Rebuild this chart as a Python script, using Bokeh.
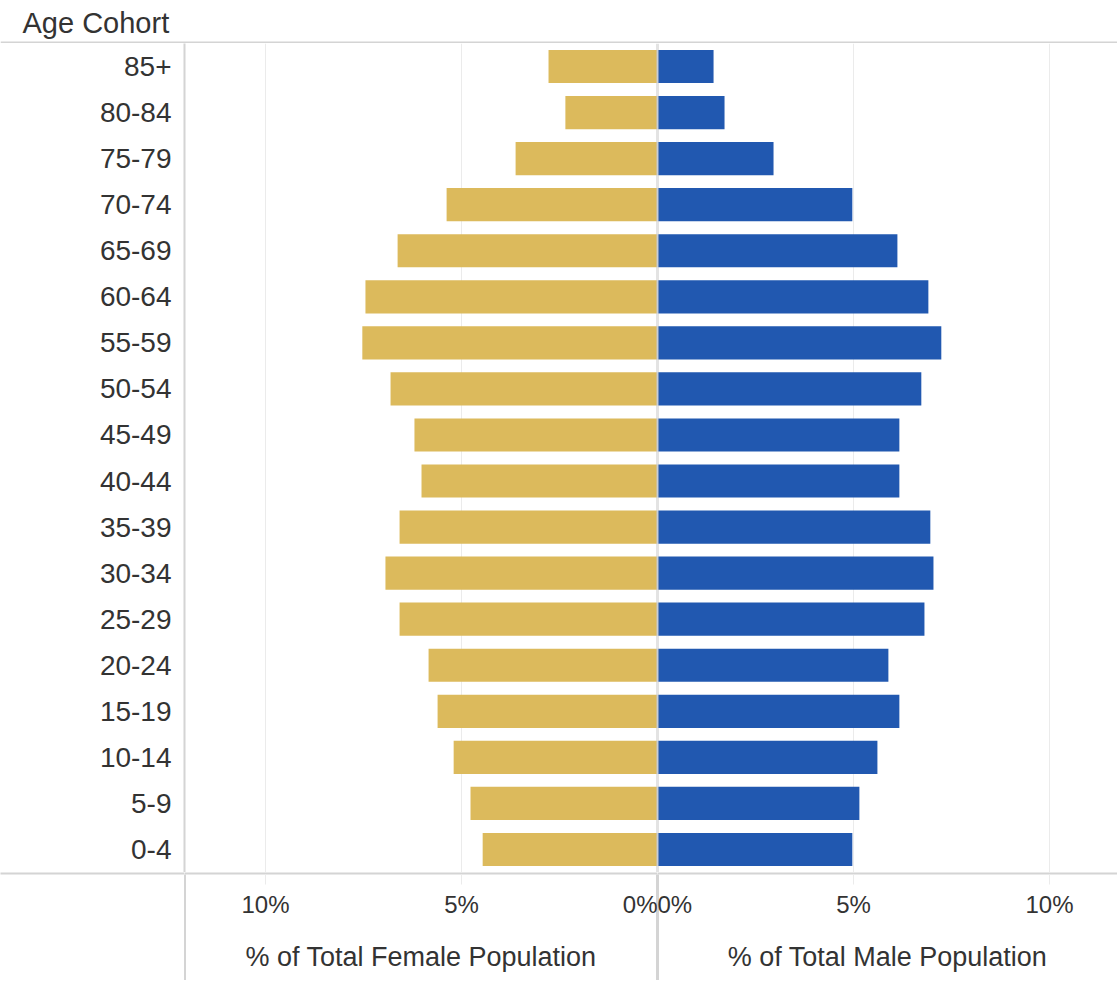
from bokeh.plotting import figure
from bokeh.models import FactorRange, Range1d, FixedTicker, BoxAnnotation, Label, Span, Grid
from bokeh.layouts import row, column
from bokeh.embed import file_html
from bokeh.resources import INLINE

# ---- data (youngest first; the categorical axis puts the first factor at the bottom) ----
ages = ["0-4", "5-9", "10-14", "15-19", "20-24", "25-29", "30-34", "35-39", "40-44",
        "45-49", "50-54", "55-59", "60-64", "65-69", "70-74", "75-79", "80-84", "85+"]
female = [4.46, 4.77, 5.20, 5.61, 5.84, 6.58, 6.94, 6.58, 6.02,
          6.20, 6.81, 7.53, 7.45, 6.63, 5.38, 3.62, 2.35, 2.78]
male = [4.97, 5.15, 5.61, 6.17, 5.89, 6.81, 7.04, 6.96, 6.17,
        6.17, 6.73, 7.24, 6.91, 6.12, 4.97, 2.96, 1.71, 1.43]
x_ticks = [0, 5, 10]
grid_ticks = [5, 10]
tick_labels = {0: "0%", 5: "5%", 10: "10%"}
female_title = "% of Total Female Population"
male_title = "% of Total Male Population"
header = "Age Cohort"

# ---- style ----
FONT = "Liberation Sans"
TEXT = "#333333"
GOLD = "#DCBA5C"
BLUE = "#2158B0"
LINE = "#D4D4D4"
CENTER = "#C8C8C8"
GRID = "#EBEBEB"

W_LAB = 184
W_F = 473
W_M = 460
W_ALL = W_LAB + W_F + W_M
H_HEAD = 43
H_PANE = 829
H_AXIS = 108
PX = 39.2  # pixels per percentage point
TICK_OUT = 10
LABEL_GAP = 6

f_range = Range1d(W_F / PX, 0)
m_range = Range1d(0, W_M / PX)
yr = FactorRange(factors=ages, range_padding=0)


def bare(width, height, **kw):
    opts = dict(width=width, height=height, output_backend="svg", toolbar_location=None,
                min_border_left=0, min_border_right=0, min_border_top=0, min_border_bottom=0,
                outline_line_color=None)
    opts.update(kw)
    p = figure(**opts)
    for g in p.grid:
        g.visible = False
    return p


# ---- header row ----
head = bare(W_ALL, H_HEAD, x_range=Range1d(0, W_ALL), y_range=Range1d(0, H_HEAD),
            x_axis_location=None, y_axis_location=None)
head.add_layout(BoxAnnotation(bottom=0, top=2, fill_color=LINE, fill_alpha=1.0, line_color=None))
head.add_layout(Label(x=22, y=H_HEAD - 22, text=header, text_font=FONT, text_font_size="29px",
                      text_color=TEXT, text_baseline="middle", text_align="left"))


# ---- pane row ----
def pane(width, xr, with_yaxis):
    p = bare(width, H_PANE, x_range=xr, y_range=yr, x_axis_location=None,
             y_axis_location="left" if with_yaxis else None,
             min_border_left=W_LAB if with_yaxis else 0)
    p.add_layout(Grid(dimension=0, ticker=FixedTicker(ticks=grid_ticks),
                      grid_line_color=GRID, grid_line_width=1))
    p.add_layout(Span(location=0, dimension="height", line_color=CENTER, line_width=2))
    if with_yaxis:
        ya = p.yaxis[0]
        ya.axis_line_color = LINE
        ya.axis_line_width = 2
        ya.major_tick_out = 0
        ya.major_tick_in = 0
        ya.major_tick_line_color = None
        ya.minor_tick_line_color = None
        ya.major_label_standoff = 13
        ya.major_label_text_font = FONT
        ya.major_label_text_font_size = "28px"
        ya.major_label_text_color = TEXT
    return p


lm = pane(W_LAB + W_F, f_range, True)
rm = pane(W_M, m_range, False)
lm.hbar(y=ages, left=0, right=female, height=0.72, fill_color=GOLD, line_color=None)
rm.hbar(y=ages, left=0, right=male, height=0.72, fill_color=BLUE, line_color=None)


# ---- axis row ----
def axis_fig(width, xr, title, minor):
    p = bare(width, H_AXIS, x_range=xr, y_range=Range1d(0, 1), y_axis_location=None,
             min_border_bottom=H_AXIS - 2, background_fill_color=LINE)
    ax = p.xaxis[0]
    ax.ticker = FixedTicker(ticks=x_ticks, minor_ticks=minor)
    ax.major_label_overrides = dict(tick_labels)
    ax.axis_line_color = None
    ax.major_tick_in = 0
    ax.major_tick_out = TICK_OUT
    ax.major_tick_line_color = GRID
    # long minor ticks continue the pane borders down through the axis area
    ax.minor_tick_in = 0
    ax.minor_tick_out = H_AXIS
    ax.minor_tick_line_color = LINE
    ax.minor_tick_line_width = 3
    ax.major_label_text_font = FONT
    ax.major_label_text_font_size = "24px"
    ax.major_label_text_color = TEXT
    # label offset is measured from the longest tick, so pull the labels back up
    ax.major_label_standoff = TICK_OUT + LABEL_GAP - H_AXIS
    ax.axis_label = title
    ax.axis_label_text_font = FONT
    ax.axis_label_text_font_size = "27px"
    ax.axis_label_text_font_style = "normal"
    ax.axis_label_text_color = TEXT
    ax.axis_label_standoff = 21
    return p


corner = bare(W_LAB, H_AXIS, x_axis_location=None, y_axis_location=None,
              min_border_bottom=H_AXIS - 2, background_fill_color=LINE)
fa = axis_fig(W_F, f_range, female_title, [f_range.start, 0])
ma = axis_fig(W_M, m_range, male_title, [0])

layout = column(head, row(lm, rm, spacing=0), row(corner, fa, ma, spacing=0), spacing=0)
open("out.html", "w").write(file_html(layout, INLINE))
